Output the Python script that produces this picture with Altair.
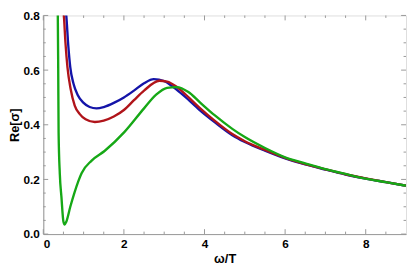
import altair as alt
import pandas as pd

# ---- data ----
blue_x = [0.55, 0.57, 0.62, 0.67, 0.75, 0.85, 1.0, 1.15, 1.32, 1.5, 1.75, 2.0, 2.25, 2.5, 2.74, 3.0, 3.25,
          3.5, 3.88, 4.25, 4.69, 5.0, 5.5, 6.0, 6.5, 7.0, 7.5, 8.0, 8.5, 9.0]
blue_y = [0.83, 0.80, 0.69, 0.61, 0.55, 0.51, 0.48, 0.465, 0.46, 0.465, 0.48, 0.50, 0.525, 0.552, 0.567, 0.56,
          0.535, 0.505, 0.454, 0.41, 0.362, 0.337, 0.305, 0.277, 0.255, 0.236, 0.218, 0.203, 0.19, 0.177]

red_x = [0.49, 0.51, 0.55, 0.60, 0.68, 0.78, 0.9, 1.05, 1.28, 1.5, 1.75, 2.0, 2.25, 2.5, 2.88, 3.07, 3.3,
         3.5, 3.88, 4.25, 4.69, 5.0, 5.5, 6.0, 6.5, 7.0, 7.5, 8.0, 8.5, 9.0]
red_y = [0.83, 0.80, 0.70, 0.61, 0.53, 0.47, 0.44, 0.42, 0.41, 0.415, 0.43, 0.454, 0.49, 0.525, 0.561, 0.558,
         0.54, 0.515, 0.462, 0.415, 0.366, 0.34, 0.308, 0.279, 0.256, 0.237, 0.219, 0.204, 0.19, 0.177]

green_x = [0.355, 0.36, 0.37, 0.38, 0.41, 0.45, 0.50, 0.53, 0.57, 0.67, 0.77, 0.87, 0.95, 1.2, 1.52, 2.01,
           2.5, 2.8, 3.07, 3.31, 3.6, 3.88, 4.25, 4.69, 5.0, 5.5, 6.0, 6.5, 7.0, 7.5, 8.0, 8.5, 9.0]
green_y = [0.83, 0.80, 0.61, 0.37, 0.22, 0.136, 0.045, 0.035, 0.045, 0.10, 0.15, 0.194, 0.223, 0.269, 0.304,
           0.373, 0.46, 0.51, 0.535, 0.538, 0.52, 0.483, 0.435, 0.385, 0.355, 0.315, 0.281, 0.259, 0.238, 0.22,
           0.203, 0.19, 0.177]

x_major = [0, 2, 4, 6, 8]
x_minor = [0.5, 1, 1.5, 2.5, 3, 3.5, 4.5, 5, 5.5, 6.5, 7, 7.5, 8.5]
y_major = [0, 0.2, 0.4, 0.6, 0.8]
y_minor = [0.05, 0.1, 0.15, 0.25, 0.3, 0.35, 0.45, 0.5, 0.55, 0.65, 0.7, 0.75]

W, H = 370, 223
FONT = "Liberation Sans"
FRAME = "#999999"

xs = alt.Scale(domain=[0, 9], nice=False, zero=False)
ys = alt.Scale(domain=[0, 0.8], nice=False)


def line(xv, yv, color):
    df = pd.DataFrame({"x": xv, "y": yv})
    return alt.Chart(df).mark_line(clip=True, interpolate="monotone", color=color, strokeWidth=2.4).encode(
        x=alt.X("x:Q", scale=xs), y=alt.Y("y:Q", scale=ys))


base_axes = alt.Chart(pd.DataFrame({"x": [0], "y": [0]})).mark_point(opacity=0).encode(
    x=alt.X("x:Q", scale=xs, title="ω/T",
            axis=alt.Axis(values=x_major, format="d", ticks=False, grid=False, domainColor=FRAME,
                          labelFont=FONT, labelFontWeight="bold", labelFontSize=12, labelColor="black",
                          labelPadding=5, titleFont=FONT, titleFontWeight="bold", titleFontSize=13,
                          titlePadding=3, titleColor="black")),
    y=alt.Y("y:Q", scale=ys, title="Re[σ]",
            axis=alt.Axis(values=y_major, format=".1f", ticks=False, grid=False, domainColor=FRAME,
                          labelFont=FONT, labelFontWeight="bold", labelFontSize=12, labelColor="black",
                          labelPadding=4, titleFont=FONT, titleFontWeight="bold", titleFontSize=13,
                          titlePadding=2, titleColor="black")),
)


def xticks(vals, length):
    df = pd.DataFrame({"v": vals})
    bot = alt.Chart(df).mark_rule(color=FRAME, strokeWidth=1).encode(
        x=alt.X("v:Q", scale=xs), y=alt.value(H), y2=alt.value(H - length))
    top = alt.Chart(df).mark_rule(color=FRAME, strokeWidth=1).encode(
        x=alt.X("v:Q", scale=xs), y=alt.value(0), y2=alt.value(length))
    return bot + top


def yticks(vals, length):
    df = pd.DataFrame({"v": vals})
    left = alt.Chart(df).mark_rule(color=FRAME, strokeWidth=1).encode(
        y=alt.Y("v:Q", scale=ys), x=alt.value(0), x2=alt.value(length))
    right = alt.Chart(df).mark_rule(color=FRAME, strokeWidth=1).encode(
        y=alt.Y("v:Q", scale=ys), x=alt.value(W), x2=alt.value(W - length))
    return left + right


chart = alt.layer(
    base_axes,
    xticks(x_major, 5), xticks(x_minor, 2.5),
    yticks(y_major, 5), yticks(y_minor, 2.5),
    line(blue_x, blue_y, "#1414a8"),
    line(red_x, red_y, "#b0141a"),
    line(green_x, green_y, "#16a816"),
).properties(
    width=W, height=H,
    autosize=alt.AutoSizeParams(type="none"),
    padding={"left": 36, "top": 5, "right": 1, "bottom": 33},
).configure_view(stroke=FRAME, strokeWidth=1).configure(background="white")

chart.save("out.html", embed_options={"renderer": "svg", "actions": False})
